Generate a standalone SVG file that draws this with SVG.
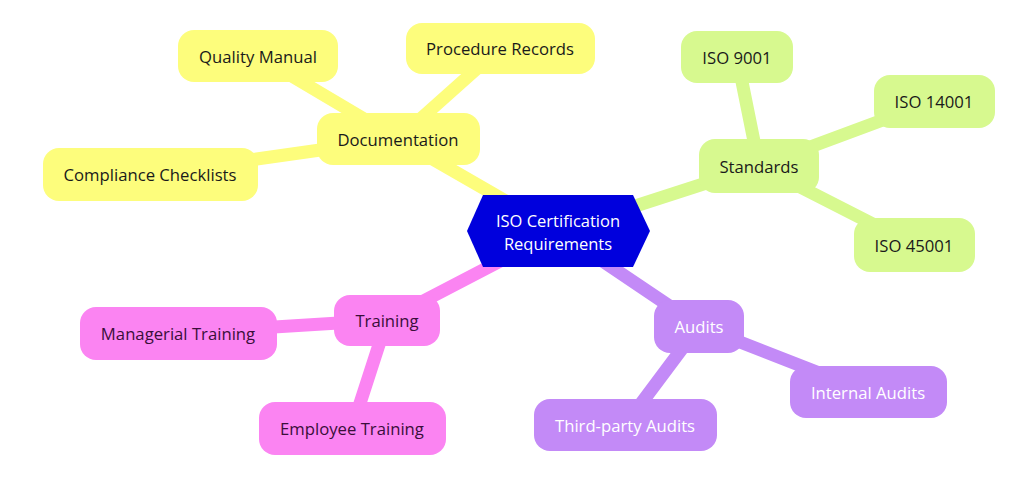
<svg xmlns="http://www.w3.org/2000/svg" width="1024" height="487" viewBox="0 0 1024 487">
<style>
  text { font-family: "Open Sans", "Noto Sans", "Liberation Sans", sans-serif; font-size: 16.7px; text-anchor: middle; dominant-baseline: central; }
  .y rect { fill: #FDFD7C; }
  .g rect { fill: #D7F98F; }
  .p rect { fill: #FB84F2; }
  .v rect { fill: #C38AF7; }
  .y text, .g text { fill: #1A1A1A; }
  .p text { fill: #3A0F3A; }
  .v text { fill: #FFFFFF; }
  #root text { fill: #FFFFFF; font-size: 16.5px; }
  .c line { stroke-width: 13; stroke-linecap: round; }
  .cy { stroke: #FDFD7C; }
  .cg { stroke: #D7F98F; }
  .cp { stroke: #FB84F2; }
  .cv { stroke: #C38AF7; }
</style>
<rect width="1024" height="487" fill="#FFFFFF"/>
<g id="connectors" class="c">
  <line class="cy" x1="558" y1="231" x2="398" y2="139"/>
  <line class="cy" x1="398" y1="139" x2="258" y2="56"/>
  <line class="cy" x1="398" y1="139" x2="500" y2="48"/>
  <line class="cy" x1="398" y1="139" x2="150" y2="174"/>
  <line class="cg" x1="558" y1="231" x2="759" y2="166"/>
  <line class="cg" x1="759" y1="166" x2="737" y2="57"/>
  <line class="cg" x1="759" y1="166" x2="934" y2="101"/>
  <line class="cg" x1="759" y1="166" x2="914" y2="245"/>
  <line class="cp" x1="558" y1="231" x2="387" y2="320"/>
  <line class="cp" x1="387" y1="320" x2="178" y2="333"/>
  <line class="cp" x1="387" y1="320" x2="352" y2="428"/>
  <line class="cv" x1="558" y1="231" x2="699" y2="326"/>
  <line class="cv" x1="699" y1="326" x2="868" y2="392"/>
  <line class="cv" x1="699" y1="326" x2="625" y2="425"/>
</g>
<g id="root">
  <polygon points="467,231 483,195 633,195 650,231 633,267 483,267" fill="#0000DD"/>
  <text x="558" y="220">ISO Certification</text>
  <text x="558" y="243">Requirements</text>
</g>
<g id="documentation" class="y"><rect x="317" y="113" width="163" height="52" rx="16"/><text x="398" y="139">Documentation</text></g>
<g id="quality-manual" class="y"><rect x="178" y="30" width="160" height="52" rx="16"/><text x="258" y="56">Quality Manual</text></g>
<g id="procedure-records" class="y"><rect x="406" y="23" width="189" height="51" rx="16"/><text x="500" y="48">Procedure Records</text></g>
<g id="compliance-checklists" class="y"><rect x="43" y="148" width="215" height="53" rx="16"/><text x="150" y="174">Compliance Checklists</text></g>
<g id="standards" class="g"><rect x="699" y="139" width="120" height="54" rx="16"/><text x="759" y="166">Standards</text></g>
<g id="iso-9001" class="g"><rect x="681" y="31" width="112" height="52" rx="16"/><text x="737" y="57">ISO 9001</text></g>
<g id="iso-14001" class="g"><rect x="874" y="75" width="121" height="53" rx="16"/><text x="934" y="101">ISO 14001</text></g>
<g id="iso-45001" class="g"><rect x="854" y="218" width="121" height="54" rx="16"/><text x="914" y="245">ISO 45001</text></g>
<g id="training" class="p"><rect x="334" y="295" width="106" height="51" rx="16"/><text x="387" y="320">Training</text></g>
<g id="managerial-training" class="p"><rect x="80" y="307" width="197" height="53" rx="16"/><text x="178" y="333">Managerial Training</text></g>
<g id="employee-training" class="p"><rect x="259" y="402" width="187" height="53" rx="16"/><text x="352" y="428">Employee Training</text></g>
<g id="audits" class="v"><rect x="654" y="300" width="90" height="53" rx="16"/><text x="699" y="326">Audits</text></g>
<g id="internal-audits" class="v"><rect x="790" y="366" width="157" height="52" rx="16"/><text x="868" y="392">Internal Audits</text></g>
<g id="third-party-audits" class="v"><rect x="534" y="399" width="183" height="52" rx="16"/><text x="625" y="425">Third-party Audits</text></g>
</svg>
